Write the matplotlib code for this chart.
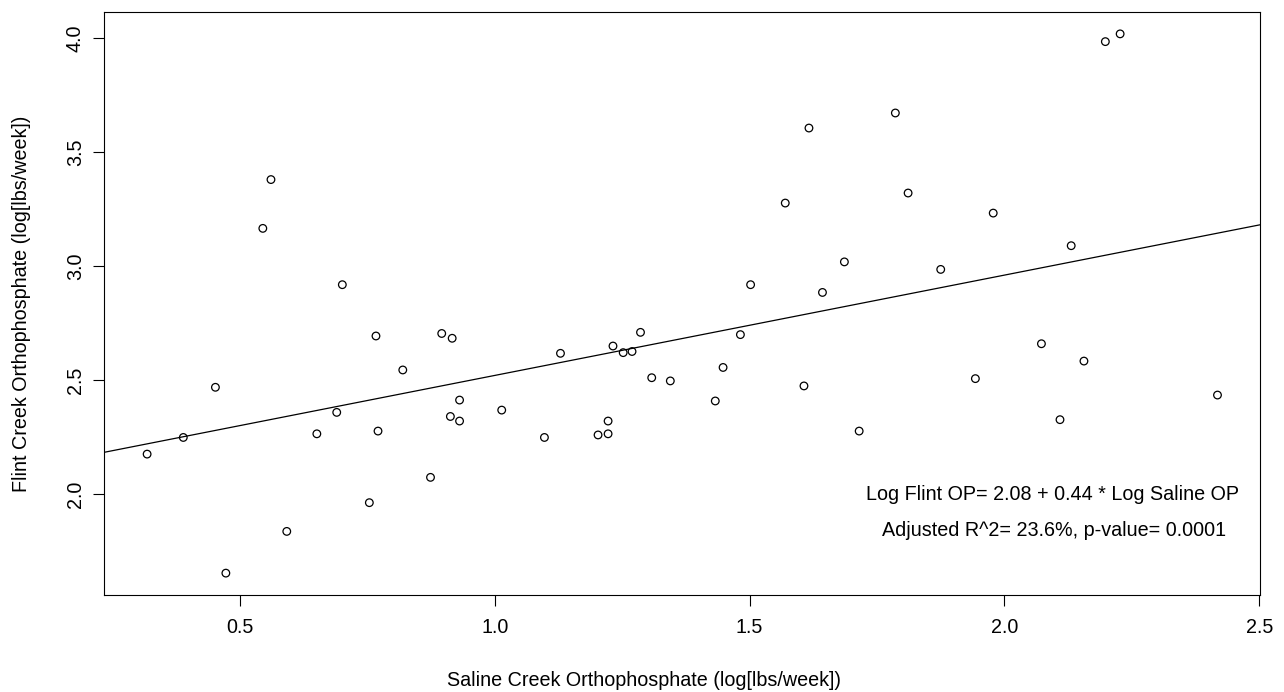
import matplotlib
matplotlib.use("Agg")
import matplotlib.pyplot as plt
import numpy as np

# Weekly orthophosphate loads, log scale (lbs/week)
saline_op = [
    0.561, 0.545, 0.701,
    1.6165, 1.570, 1.686, 1.502, 1.643,
    1.786, 2.198, 2.227, 1.811, 1.978, 2.131, 1.875,
    0.318, 0.389, 0.452, 0.4725, 0.592, 0.651, 0.690, 0.754, 0.767, 0.771,
    0.8196, 0.874, 0.896, 0.9165, 0.931, 0.913, 0.931,
    1.0137, 1.129, 1.0975, 1.2027, 1.2224, 1.2224, 1.232, 1.252, 1.2694,
    1.286, 1.308, 1.3445, 1.4327, 1.448, 1.482, 1.6067, 1.715,
    1.943, 2.0726, 2.156, 2.109, 2.418,
]
flint_op = [
    3.379, 3.165, 2.918,
    3.605, 3.276, 3.018, 2.918, 2.884,
    3.671, 3.984, 4.018, 3.320, 3.232, 3.089, 2.985,
    2.175, 2.248, 2.468, 1.653, 1.836, 2.264, 2.358, 1.962, 2.693, 2.276,
    2.544, 2.073, 2.704, 2.683, 2.412, 2.340, 2.320,
    2.368, 2.617, 2.248, 2.259, 2.264, 2.320, 2.649, 2.620, 2.625,
    2.709, 2.510, 2.496, 2.408, 2.555, 2.699, 2.474, 2.276,
    2.506, 2.659, 2.583, 2.326, 2.434,
]

# Fitted regression: Log Flint OP = intercept + slope * Log Saline OP
intercept = 2.08
slope = 0.44
fit_label = "Log Flint OP= 2.08 + 0.44 * Log Saline OP"
stats_label = "Adjusted R^2= 23.6%, p-value= 0.0001"

x_ticks = [0.5, 1.0, 1.5, 2.0, 2.5]
y_ticks = [2.0, 2.5, 3.0, 3.5, 4.0]

plt.rcParams["font.family"] = ["Liberation Sans", "DejaVu Sans"]
FS = 14.2

W, H = 1284, 692
fig = plt.figure(figsize=(W / 100, H / 100), dpi=100)
left, right, top, bottom = 104.3, 1260.3, 12.3, 594.7
ax = fig.add_axes([left / W, 1 - bottom / H, (right - left) / W, (bottom - top) / H])

x = np.asarray(saline_op)
y = np.asarray(flint_op)

# R-style 4% padding around the data range
xr = x.max() - x.min()
yr = y.max() - y.min()
xlim = (x.min() - 0.04 * xr, x.max() + 0.04 * xr)
ylim = (y.min() - 0.04 * yr, y.max() + 0.04 * yr)

ax.scatter(x, y, s=30, facecolors="none", edgecolors="black", linewidths=0.9, zorder=3)

xs = np.array(xlim)
ax.plot(xs, intercept + slope * xs, color="black", lw=0.9, zorder=2)

ax.set_xlim(*xlim)
ax.set_ylim(*ylim)

ax.set_xticks(x_ticks)
ax.set_xticklabels([f"{v:.1f}" for v in x_ticks])
ax.set_yticks(y_ticks)
ax.set_yticklabels([f"{v:.1f}" for v in y_ticks])

ax.tick_params(axis="both", direction="out", length=8, width=0.8,
               labelsize=FS, colors="black")
ax.tick_params(axis="x", pad=9)
ax.tick_params(axis="y", pad=6)
for lab in ax.get_yticklabels():
    lab.set_rotation(90)
    lab.set_va("center")

for sp in ax.spines.values():
    sp.set_linewidth(0.8)
    sp.set_color("black")

ax.set_xlabel("Saline Creek Orthophosphate (log[lbs/week])", fontsize=FS)
ax.xaxis.set_label_coords((644 - left) / (right - left), -(680 - bottom) / (bottom - top))
ax.xaxis.label.set_va("center")

ax.set_ylabel("Flint Creek Orthophosphate (log[lbs/week])", fontsize=FS)
ax.yaxis.set_label_coords((22 - left) / (right - left), 0.5)
ax.yaxis.label.set_va("center")

ax.text(2.095, 2.0, fit_label, ha="center", va="center", fontsize=FS)
ax.text(2.097, 1.842, stats_label, ha="center", va="center", fontsize=FS)

fig.savefig("out.png", dpi=100)
